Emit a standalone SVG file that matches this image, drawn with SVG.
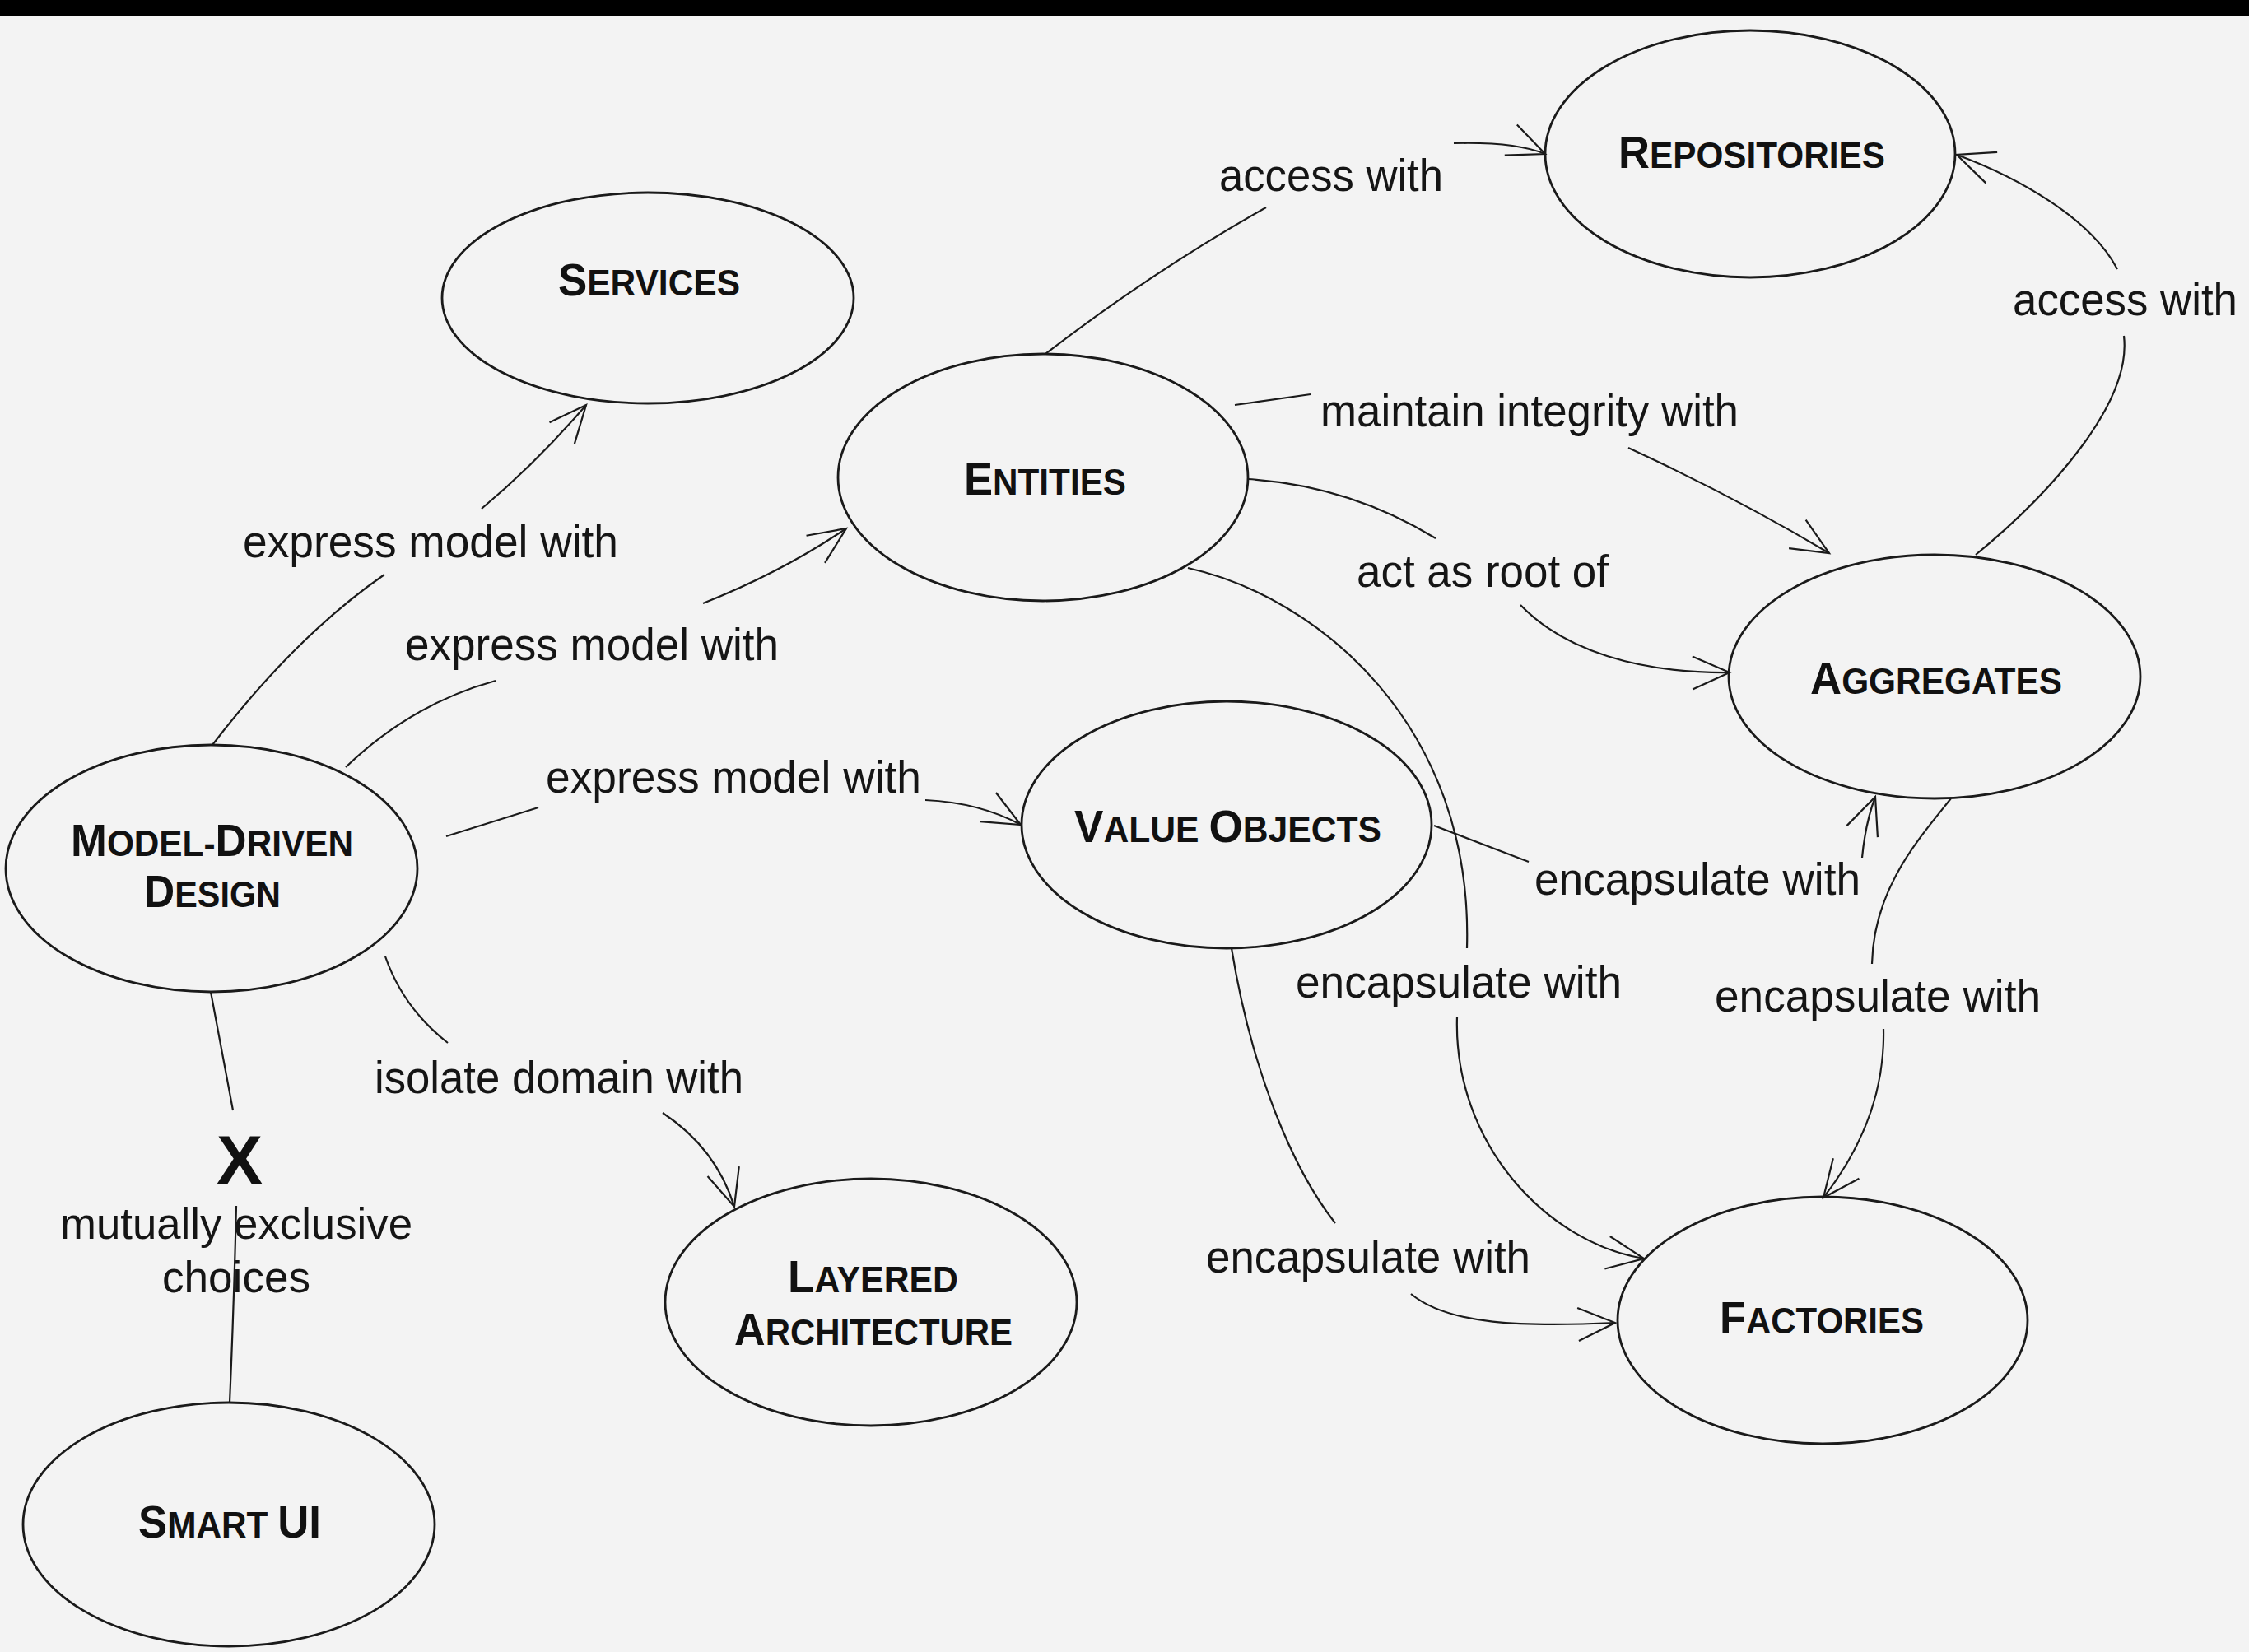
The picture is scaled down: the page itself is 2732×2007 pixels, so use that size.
<svg xmlns="http://www.w3.org/2000/svg" width="2732" height="2007" viewBox="0 0 2732 2007">
<defs>
<style>
.nd{fill:none;stroke:#1a1a1a;stroke-width:2.8}
.ln{fill:none;stroke:#1a1a1a;stroke-width:2.2}
.nt{font-family:"Liberation Sans",Arial,Helvetica,sans-serif;font-weight:bold;text-anchor:middle;fill:#111}
.c{font-size:56px}
.s{font-size:45px}
.lb{font-family:"Liberation Sans",Arial,Helvetica,sans-serif;font-size:55px;fill:#151515}
</style>
<marker id="arr" viewBox="-52 -26 58 52" refX="0" refY="0" markerWidth="58" markerHeight="52" markerUnits="userSpaceOnUse" orient="auto">
<path d="M-45,-20 L0,0 L-45,20" fill="none" stroke="#1a1a1a" stroke-width="2.2"/>
</marker>
</defs>
<rect x="0" y="0" width="2732" height="2007" fill="#f3f3f3"/>
<rect x="0" y="0" width="2732" height="20" fill="#000"/>

<g id="labels">
<text class="lb" x="1481" y="232" textLength="272" lengthAdjust="spacingAndGlyphs">access with</text>
<text class="lb" x="2445" y="383" textLength="273" lengthAdjust="spacingAndGlyphs">access with</text>
<text class="lb" x="1604" y="518" textLength="508" lengthAdjust="spacingAndGlyphs">maintain integrity with</text>
<text class="lb" x="1648" y="713" textLength="306" lengthAdjust="spacingAndGlyphs">act as root of</text>
<text class="lb" x="295" y="677" textLength="456" lengthAdjust="spacingAndGlyphs">express model with</text>
<text class="lb" x="492" y="802" textLength="454" lengthAdjust="spacingAndGlyphs">express model with</text>
<text class="lb" x="663" y="963" textLength="456" lengthAdjust="spacingAndGlyphs">express model with</text>
<text class="lb" x="455" y="1328" textLength="448" lengthAdjust="spacingAndGlyphs">isolate domain with</text>
<text class="lb" x="1864" y="1087" textLength="396" lengthAdjust="spacingAndGlyphs">encapsulate with</text>
<text class="lb" x="1574" y="1212" textLength="396" lengthAdjust="spacingAndGlyphs">encapsulate with</text>
<text class="lb" x="2083" y="1229" textLength="396" lengthAdjust="spacingAndGlyphs">encapsulate with</text>
<text class="lb" x="1465" y="1546" textLength="394" lengthAdjust="spacingAndGlyphs">encapsulate with</text>
<text class="nt" x="291" y="1438" style="font-size:84px">X</text>
<text class="lb" x="73" y="1505" textLength="428" lengthAdjust="spacingAndGlyphs" style="font-size:54px">mutually exclusive</text>
<text class="lb" x="197" y="1570" textLength="180" lengthAdjust="spacingAndGlyphs" style="font-size:54px">choices</text>
</g>

<g id="connectors">
<path class="ln" d="M258,905 Q360,772 467,698"/>
<path class="ln" d="M585,618 Q652,562 712,492" marker-end="url(#arr)"/>
<path class="ln" d="M420,932 Q500,855 602,827"/>
<path class="ln" d="M854,733 Q950,695 1028,642" marker-end="url(#arr)"/>
<path class="ln" d="M542,1016 L654,981"/>
<path class="ln" d="M1124,972 Q1190,975 1240,1002" marker-end="url(#arr)"/>
<path class="ln" d="M468,1162 Q490,1225 544,1267"/>
<path class="ln" d="M805,1352 Q870,1395 892,1466" marker-end="url(#arr)"/>
<path class="ln" d="M256,1205 L283,1349"/>
<path class="ln" d="M287,1465 Q284,1590 279,1704"/>
<path class="ln" d="M1270,430 Q1400,330 1538,252"/>
<path class="ln" d="M1766,174 Q1840,172 1877,187" marker-end="url(#arr)"/>
<path class="ln" d="M1500,492 L1592,479"/>
<path class="ln" d="M1978,544 Q2110,605 2222,672" marker-end="url(#arr)"/>
<path class="ln" d="M1516,582 Q1640,590 1744,654"/>
<path class="ln" d="M1847,735 C1900,790 1990,818 2101,817" marker-end="url(#arr)"/>
<path class="ln" d="M1443,690 C1600,725 1790,880 1782,1152"/>
<path class="ln" d="M1770,1235 C1765,1390 1880,1510 1997,1529" marker-end="url(#arr)"/>
<path class="ln" d="M2400,674 C2490,600 2590,490 2580,408"/>
<path class="ln" d="M2572,327 C2540,265 2450,215 2377,188" marker-end="url(#arr)"/>
<path class="ln" d="M1742,1003 L1857,1047"/>
<path class="ln" d="M2262,1042 Q2266,1000 2278,968" marker-end="url(#arr)"/>
<path class="ln" d="M2370,970 C2330,1020 2276,1080 2274,1171"/>
<path class="ln" d="M2288,1250 C2290,1340 2250,1410 2215,1455" marker-end="url(#arr)"/>
<path class="ln" d="M1496,1152 C1520,1300 1570,1420 1622,1486"/>
<path class="ln" d="M1714,1572 C1760,1610 1850,1612 1962,1607" marker-end="url(#arr)"/>
</g>

<g id="services">
<ellipse class="nd" cx="787" cy="362" rx="250" ry="128"/>
<text class="nt" x="788.5" y="359" textLength="221" lengthAdjust="spacingAndGlyphs"><tspan class="c">S</tspan><tspan class="s">ERVICES</tspan></text>
</g>
<g id="entities">
<ellipse class="nd" cx="1267" cy="580" rx="249" ry="150"/>
<text class="nt" x="1269.5" y="601" textLength="197" lengthAdjust="spacingAndGlyphs"><tspan class="c">E</tspan><tspan class="s">NTITIES</tspan></text>
</g>
<g id="repositories">
<ellipse class="nd" cx="2126" cy="187" rx="249" ry="150"/>
<text class="nt" x="2128" y="204" textLength="324" lengthAdjust="spacingAndGlyphs"><tspan class="c">R</tspan><tspan class="s">EPOSITORIES</tspan></text>
</g>
<g id="aggregates">
<ellipse class="nd" cx="2350" cy="822" rx="250" ry="148"/>
<text class="nt" x="2352" y="843" textLength="306" lengthAdjust="spacingAndGlyphs"><tspan class="c">A</tspan><tspan class="s">GGREGATES</tspan></text>
</g>
<g id="model-driven-design">
<ellipse class="nd" cx="257" cy="1055" rx="250" ry="150"/>
<text class="nt" x="257.5" y="1040" textLength="343" lengthAdjust="spacingAndGlyphs"><tspan class="c">M</tspan><tspan class="s">ODEL-</tspan><tspan class="c">D</tspan><tspan class="s">RIVEN</tspan></text>
<text class="nt" x="258" y="1102" textLength="166" lengthAdjust="spacingAndGlyphs"><tspan class="c">D</tspan><tspan class="s">ESIGN</tspan></text>
</g>
<g id="value-objects">
<ellipse class="nd" cx="1490" cy="1002" rx="249" ry="150"/>
<text class="nt" x="1491.5" y="1023" textLength="373" lengthAdjust="spacingAndGlyphs"><tspan class="c">V</tspan><tspan class="s">ALUE </tspan><tspan class="c">O</tspan><tspan class="s">BJECTS</tspan></text>
</g>
<g id="layered-architecture">
<ellipse class="nd" cx="1058" cy="1582" rx="250" ry="150"/>
<text class="nt" x="1060.5" y="1570" textLength="207" lengthAdjust="spacingAndGlyphs"><tspan class="c">L</tspan><tspan class="s">AYERED</tspan></text>
<text class="nt" x="1061" y="1634" textLength="338" lengthAdjust="spacingAndGlyphs"><tspan class="c">A</tspan><tspan class="s">RCHITECTURE</tspan></text>
</g>
<g id="factories">
<ellipse class="nd" cx="2214" cy="1604" rx="249" ry="150"/>
<text class="nt" x="2213" y="1620" textLength="248" lengthAdjust="spacingAndGlyphs"><tspan class="c">F</tspan><tspan class="s">ACTORIES</tspan></text>
</g>
<g id="smart-ui">
<ellipse class="nd" cx="278" cy="1852" rx="250" ry="148"/>
<text class="nt" x="279" y="1868" textLength="222" lengthAdjust="spacingAndGlyphs"><tspan class="c">S</tspan><tspan class="s">MART </tspan><tspan class="c">UI</tspan></text>
</g>
</svg>
